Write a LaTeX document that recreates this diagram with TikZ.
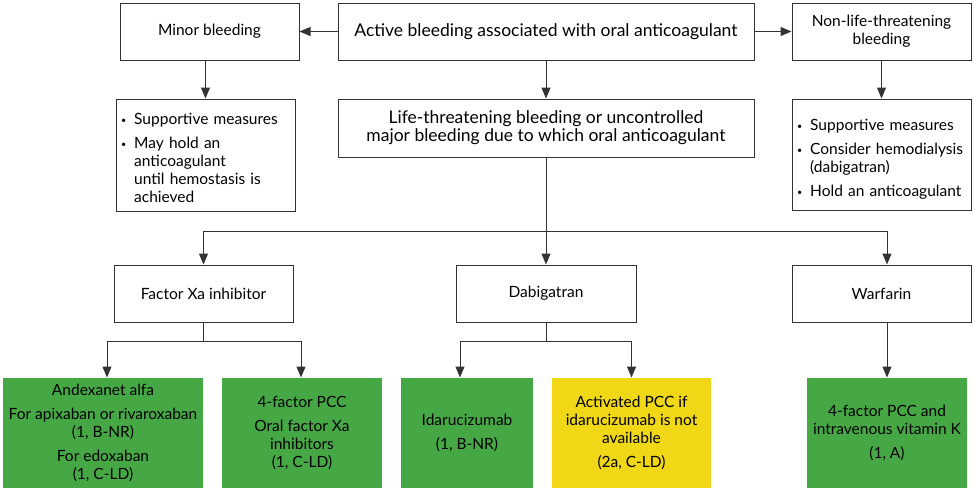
\documentclass[tikz,border=0pt]{standalone}
\usepackage{fontspec}
\setmainfont{Lato}
\usetikzlibrary{arrows.meta}
\definecolor{boxgreen}{HTML}{46A844}
\definecolor{boxyellow}{HTML}{F0D816}
\definecolor{linegray}{HTML}{333333}
\newcommand{\bul}{\raisebox{1pt}{\fontsize{9}{9}\selectfont\textbullet}}
\tikzset{
  box/.style={draw=linegray, line width=1pt, inner sep=0pt, align=center,
    font=\fontsize{15.5}{18}\selectfont, text=black},
  bigbox/.style={box, font=\fontsize{17.5}{18}\selectfont},
  gbox/.style={box, draw=none, fill=boxgreen},
  ybox/.style={box, draw=none, fill=boxyellow},
  listbox/.style={box, align=left},
  arr/.style={draw=linegray, line width=1pt, -{Triangle[length=11pt,width=9pt]}},
  ln/.style={draw=linegray, line width=1pt}
}
\begin{document}
\begin{tikzpicture}[x=1pt,y=-1pt]
\useasboundingbox (0,0) rectangle (975,491);
% top row
\node[box, minimum width=179pt, minimum height=57pt] (minor) at (209.5,31.5) {Minor bleeding};
\node[bigbox, minimum width=416pt, minimum height=57pt] (active) at (546,31.5) {Active bleeding associated with oral anticoagulant};
\node[box, minimum width=179pt, minimum height=57pt] (nonlife) at (881.5,31.5) {Non-life-threatening\\bleeding};
% second row
\node[listbox, minimum width=179pt, minimum height=112pt, text width=169pt] (supL) at (205.5,155)
 {\renewcommand{\arraystretch}{1}\raisebox{-5pt}[\height][\depth]{\begin{tabular}{@{}l@{\hspace{8pt}}l@{}}
  \bul & Supportive measures\\[6pt]
  \bul & May hold an\\
       & anticoagulant\\
       & until hemostasis is\\
       & achieved
 \end{tabular}}};
\node[bigbox, minimum width=416pt, minimum height=58pt] (life) at (546,128)
 {Life-threatening bleeding or uncontrolled\\major bleeding due to which oral anticoagulant};
\node[listbox, minimum width=179pt, minimum height=111pt, text width=169pt] (supR) at (881.5,154.5)
 {\renewcommand{\arraystretch}{1}\raisebox{-5pt}[\height][\depth]{\begin{tabular}{@{}l@{\hspace{8pt}}l@{}}
  \bul & Supportive measures\\[6pt]
  \bul & Consider hemodialysis\\
       & (dabigatran)\\[6pt]
  \bul & Hold an anticoagulant
 \end{tabular}}};
% third row
\node[box, minimum width=179pt, minimum height=57pt] (fxa) at (203.5,293.5) {Factor Xa inhibitor};
\node[box, minimum width=180pt, minimum height=57pt] (dab) at (546,293.5) {Dabigatran};
\node[box, minimum width=179pt, minimum height=57pt] (warf) at (881.5,293.5) {Warfarin};
% bottom row
\node[gbox, minimum width=200pt, minimum height=110pt] (andex) at (103,433)
 {Andexanet alfa\\[6pt]For apixaban or rivaroxaban\\(1, B-NR)\\[6pt]For edoxaban\\(1, C-LD)};
\node[gbox, minimum width=160pt, minimum height=110pt] (pcc4) at (302,433)
 {4-factor PCC\\[6pt]Oral factor Xa\\inhibitors\\(1, C-LD)};
\node[gbox, minimum width=132pt, minimum height=110pt] (ida) at (467,433)
 {Idarucizumab\\[6pt](1, B-NR)};
\node[ybox, minimum width=159pt, minimum height=110pt] (apcc) at (631.5,433)
 {Activated PCC if\\idarucizumab is not\\available\\[6pt](2a, C-LD)};
\node[gbox, minimum width=160pt, minimum height=110pt] (wpcc) at (887,433)
 {4-factor PCC and\\intravenous vitamin K\\[6pt](1, A)};
% connectors
\draw[arr] (active) -- (minor);
\draw[arr] (active) -- (nonlife);
\draw[arr] (minor.south -| supL.north) -- (supL.north);
\draw[arr] (active) -- (life);
\draw[arr] (nonlife.south -| supR.north) -- (supR.north);
\coordinate (bus) at (546,231);
\draw[ln] (life.south) -- (bus);
\draw[arr] (bus) -| (fxa.north);
\draw[arr] (bus) -- (dab.north);
\draw[arr] (bus) -| (wpcc.north |- warf.north);
\coordinate (fxj) at (203.5,341);
\draw[ln] (fxa.south) -- (fxj);
\draw[arr] (fxj) -| ([xshift=4pt]andex.north);
\draw[arr] (fxj) -| ([xshift=-1pt]pcc4.north);
\coordinate (dabj) at (546,341);
\draw[ln] (dab.south) -- (dabj);
\draw[arr] (dabj) -| ([xshift=-7pt]ida.north);
\draw[arr] (dabj) -| (apcc.north);
\draw[arr] (warf.south -| wpcc.north) -- (wpcc.north);
\end{tikzpicture}
\end{document}
